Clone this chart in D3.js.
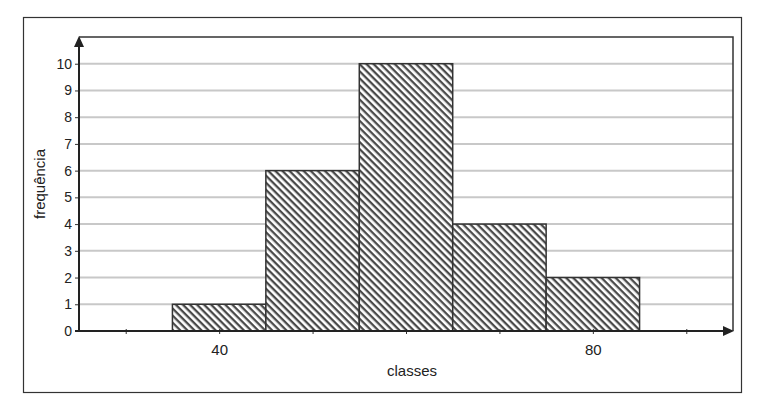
<!DOCTYPE html>
<html>
<head>
<meta charset="utf-8">
<script src="https://cdn.jsdelivr.net/npm/d3@7"></script>
<style>
  body { margin: 0; background: #fff; }
  svg { display: block; font-family: "Liberation Sans", Arial, sans-serif; }
</style>
</head>
<body>
<svg id="chart" width="760" height="399"></svg>
<script>
// class bins (lower, upper) and frequencies
var binStart = [35, 45, 55, 65, 75];
var binEnd   = [45, 55, 65, 75, 85];
var freq     = [1, 6, 10, 4, 2];
var yTicks   = [0, 1, 2, 3, 4, 5, 6, 7, 8, 9, 10];
var xTicks   = [30, 40, 50, 60, 70, 80, 90];
var xLabels  = [40, 80];

var svg = d3.select("#chart");
var m = {left: 79, top: 37, right: 733, bottom: 331};

var x = d3.scaleLinear().domain([25, 95]).range([m.left, m.right]);
var y = d3.scaleLinear().domain([0, 11]).range([m.bottom, m.top]);

// outer frame
svg.append("rect")
    .attr("x", 23.5).attr("y", 17.5).attr("width", 718).attr("height", 375)
    .attr("fill", "none").attr("stroke", "#333").attr("stroke-width", 1.2);

// hatch pattern (backslash direction)
var defs = svg.append("defs");
var pat = defs.append("pattern")
    .attr("id", "hatch")
    .attr("patternUnits", "userSpaceOnUse")
    .attr("width", 5).attr("height", 5)
    .attr("patternTransform", "rotate(45)");
pat.append("rect").attr("width", 5).attr("height", 5).attr("fill", "#fff");
pat.append("rect").attr("x", 0).attr("y", 0).attr("width", 5).attr("height", 2.3).attr("fill", "#4a4a4a");

// grid lines
svg.append("g").selectAll("line").data(yTicks.slice(1))
    .enter().append("line")
    .attr("x1", m.left).attr("x2", m.right)
    .attr("y1", function(d) { return y(d); })
    .attr("y2", function(d) { return y(d); })
    .attr("stroke", "#c8c8c8").attr("stroke-width", 2);

// plot frame top and right
svg.append("path")
    .attr("d", "M" + m.left + "," + m.top + "H" + m.right + "V" + m.bottom)
    .attr("fill", "none").attr("stroke", "#333").attr("stroke-width", 1.5);

// bars
svg.append("g").selectAll("rect").data(freq)
    .enter().append("rect")
    .attr("x", function(d, i) { return x(binStart[i]); })
    .attr("width", function(d, i) { return x(binEnd[i]) - x(binStart[i]); })
    .attr("y", function(d) { return y(d); })
    .attr("height", function(d) { return y(0) - y(d); })
    .attr("fill", "url(#hatch)")
    .attr("stroke", "#333").attr("stroke-width", 1.5);

// y axis
var yAxis = svg.append("g")
    .attr("transform", "translate(" + m.left + ",0)")
    .call(d3.axisLeft(y).tickValues(yTicks).tickSize(4).tickSizeOuter(0));
yAxis.select(".domain").remove();
yAxis.selectAll("line").attr("stroke", "#333");
yAxis.selectAll("text").attr("font-size", 14).attr("fill", "#222")
    .attr("font-family", "Liberation Sans, Arial, sans-serif");
svg.append("line")
    .attr("x1", m.left).attr("x2", m.left)
    .attr("y1", m.bottom).attr("y2", m.top + 8)
    .attr("stroke", "#222").attr("stroke-width", 2);
svg.append("path")
    .attr("d", "M" + (m.left - 5) + "," + (m.top + 10) + "L" + m.left + "," + (m.top - 1) + "L" + (m.left + 5) + "," + (m.top + 10) + "Z")
    .attr("fill", "#222");

// x axis
var xAxis = svg.append("g")
    .attr("transform", "translate(0," + m.bottom + ")")
    .call(d3.axisBottom(x).tickValues(xTicks).tickSize(3).tickSizeOuter(0)
        .tickFormat(function(d) { return xLabels.indexOf(d) >= 0 ? d : ""; }));
xAxis.select(".domain").remove();
xAxis.selectAll("line").attr("stroke", "#333").attr("y1", -2);
xAxis.selectAll("text").attr("font-size", 15).attr("fill", "#222").attr("dy", "1.2em")
    .attr("font-family", "Liberation Sans, Arial, sans-serif");
svg.append("line")
    .attr("x1", m.left - 4).attr("x2", m.right - 8)
    .attr("y1", m.bottom).attr("y2", m.bottom)
    .attr("stroke", "#222").attr("stroke-width", 2);
svg.append("path")
    .attr("d", "M" + (m.right - 10) + "," + (m.bottom - 5) + "L" + (m.right + 1) + "," + m.bottom + "L" + (m.right - 10) + "," + (m.bottom + 5) + "Z")
    .attr("fill", "#222");

// axis titles
svg.append("text")
    .attr("x", 412).attr("y", 376)
    .attr("text-anchor", "middle").attr("font-size", 15).attr("fill", "#222")
    .text("classes");
svg.append("text")
    .attr("transform", "translate(45,184) rotate(-90)")
    .attr("text-anchor", "middle").attr("font-size", 15).attr("fill", "#222")
    .text("frequência");
</script>
</body>
</html>
